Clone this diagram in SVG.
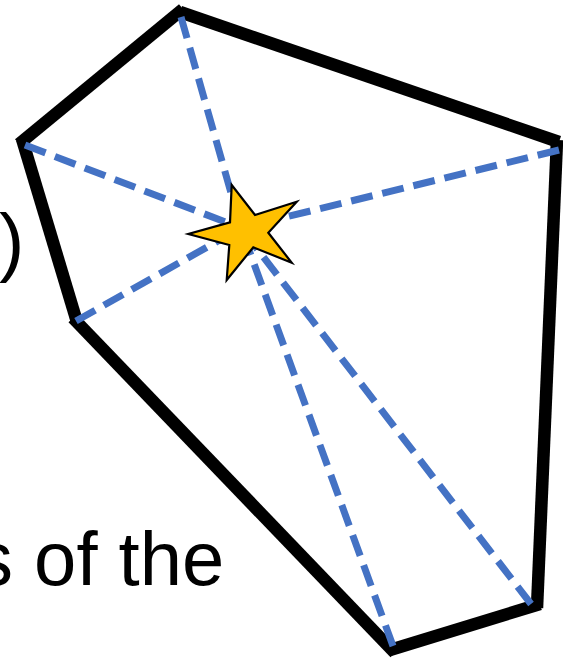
<svg xmlns="http://www.w3.org/2000/svg" width="563" height="661" viewBox="0 0 563 661">
<style>
.edge{stroke:#000;stroke-width:12.5;stroke-linecap:butt;fill:none}
.spoke{stroke:#4472C4;stroke-width:7;stroke-dasharray:22 10;fill:none}
.lbl{font-family:"Liberation Sans",Arial,sans-serif;font-size:76px;fill:#000}
</style>
<rect width="563" height="661" fill="#fff"/>
<text class="lbl" x="-1" y="267">)</text>
<text class="lbl" x="-25" y="585">s of the</text>
<g id="polygon">
<line class="edge" x1="180" y1="12" x2="559" y2="142"/>
<line class="edge" x1="557" y1="140" x2="537" y2="608"/>
<line class="edge" x1="540" y1="604" x2="390" y2="650"/>
<line class="edge" x1="395" y1="653" x2="73" y2="318"/>
<line class="edge" x1="77" y1="322" x2="22" y2="139"/>
<line class="edge" x1="19" y1="144" x2="183" y2="9"/>
</g>
<g id="connectors">
<line class="spoke" x1="181" y1="17" x2="241" y2="228"/>
<line class="spoke" x1="559" y1="150" x2="241" y2="228"/>
<line class="spoke" x1="531" y1="604" x2="241" y2="228"/>
<line class="spoke" x1="393" y1="646" x2="241" y2="228"/>
<line class="spoke" x1="76" y1="321" x2="241" y2="228"/>
<line class="spoke" x1="25" y1="145" x2="241" y2="228"/>
</g>
<g id="star">
<polygon points="231.7,185 255,215 296.7,201.7 268.3,232.7 291.7,262.7 253.3,247.3 226.7,280 229.3,245 188.3,234 230,222.3" fill="#FFC000" stroke="#000" stroke-width="2.2" stroke-linejoin="miter"/>
</g>
</svg>
